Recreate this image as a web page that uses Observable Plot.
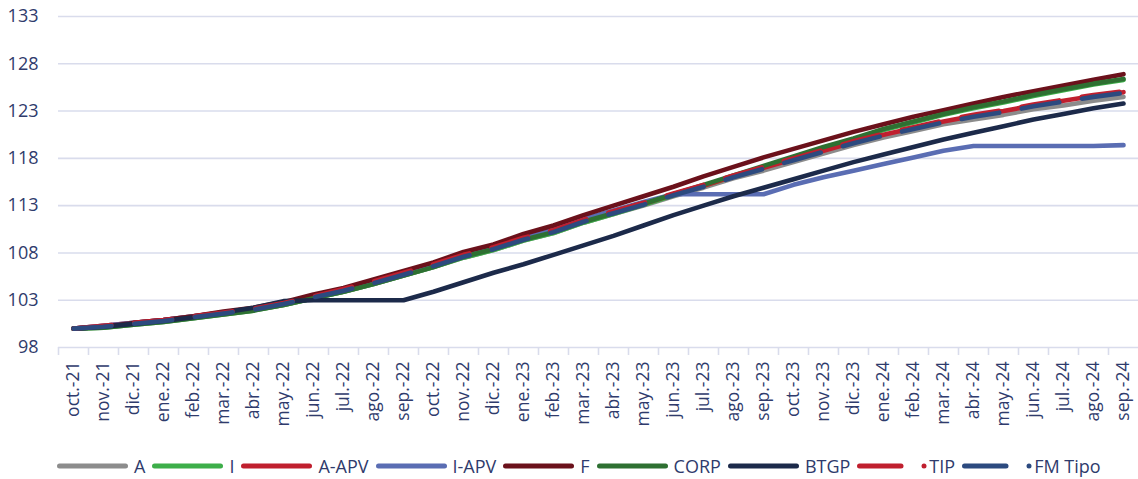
<!DOCTYPE html>
<html><head><meta charset="utf-8">
<script src="https://cdn.jsdelivr.net/npm/d3@7"></script>
<script src="https://cdn.jsdelivr.net/npm/@observablehq/plot@0.6"></script>
<style>
html,body{margin:0;padding:0;background:#fff;overflow:hidden}
body{font-family:"Open Sans",sans-serif;color:#2f3b6c;width:1138px;height:479px}
#legend{display:flex;align-items:center;height:20px;margin-top:24px;padding-left:57px;font-size:18px;color:#2f3b6c}
.item{display:flex;align-items:center;margin-right:7px}
.item svg{display:block;margin-right:6px}
</style></head><body>
<div id="chart"></div>
<div id="legend"></div>
<script>
const months = ["oct.-21","nov.-21","dic.-21","ene.-22","feb.-22","mar.-22","abr.-22","may.-22","jun.-22","jul.-22","ago.-22","sep.-22","oct.-22","nov.-22","dic.-22","ene.-23","feb.-23","mar.-23","abr.-23","may.-23","jun.-23","jul.-23","ago.-23","sep.-23","oct.-23","nov.-23","dic.-23","ene.-24","feb.-24","mar.-24","abr.-24","may.-24","jun.-24","jul.-24","ago.-24","sep.-24"];
const yTicks = [98,103,108,113,118,123,128,133];

const seriesA     = [100.0,100.2,100.5,100.8,101.2,101.6,102.0,102.5,103.2,103.9,104.7,105.6,106.5,107.5,108.3,109.3,110.1,111.2,112.1,113.0,114.0,114.9,115.9,116.7,117.6,118.5,119.4,120.2,120.9,121.6,122.1,122.6,123.2,123.6,124.1,124.5];
const seriesI     = [100.0,100.1,100.4,100.7,101.1,101.5,101.9,102.5,103.2,103.9,104.7,105.6,106.5,107.5,108.3,109.3,110.1,111.2,112.1,113.1,114.1,115.1,116.1,117.1,118.1,119.1,120.0,121.0,121.8,122.6,123.3,123.9,124.6,125.2,125.8,126.3];
const seriesAAPV  = [100.0,100.3,100.6,100.9,101.3,101.7,102.1,102.7,103.4,104.1,104.9,105.8,106.7,107.7,108.5,109.5,110.3,111.4,112.3,113.2,114.2,115.1,116.1,117.0,117.9,118.8,119.7,120.5,121.2,121.9,122.5,123.0,123.6,124.1,124.6,125.0];
const seriesIAPV  = [100.0,100.3,100.6,100.9,101.3,101.7,102.1,102.7,103.4,104.2,105.0,105.9,106.8,107.8,108.7,109.7,110.5,111.6,112.5,113.4,114.2,114.2,114.2,114.2,115.2,116.0,116.7,117.4,118.1,118.8,119.3,119.3,119.3,119.3,119.3,119.4];
const seriesF     = [100.0,100.2,100.6,100.9,101.3,101.8,102.2,102.8,103.6,104.3,105.2,106.1,107.0,108.1,108.9,110.0,110.9,112.0,113.0,114.0,115.0,116.1,117.1,118.1,119.0,119.9,120.8,121.6,122.4,123.1,123.8,124.5,125.1,125.7,126.3,126.9];
const seriesCORP  = [100.0,100.1,100.4,100.7,101.1,101.5,101.9,102.5,103.2,103.9,104.7,105.6,106.5,107.6,108.4,109.4,110.2,111.3,112.2,113.2,114.2,115.2,116.2,117.2,118.2,119.2,120.1,121.1,121.9,122.7,123.4,124.0,124.7,125.3,125.9,126.4];
const seriesBTGP  = [100.0,100.2,100.5,100.8,101.2,101.7,102.2,102.9,103.0,103.0,103.0,103.0,103.9,104.9,105.9,106.8,107.8,108.8,109.8,110.9,112.0,113.0,114.0,114.9,115.8,116.7,117.6,118.4,119.2,120.0,120.7,121.4,122.1,122.7,123.3,123.8];
const seriesTIP   = [100.0,100.3,100.6,100.9,101.3,101.7,102.1,102.7,103.4,104.2,105.0,105.9,106.8,107.8,108.6,109.6,110.4,111.5,112.4,113.3,114.3,115.2,116.2,117.1,118.0,118.9,119.8,120.6,121.3,122.0,122.6,123.1,123.7,124.2,124.7,125.1];
const seriesFM    = [100.0,100.2,100.5,100.8,101.2,101.6,102.0,102.6,103.3,104.0,104.8,105.7,106.6,107.6,108.4,109.4,110.2,111.3,112.2,113.1,114.1,115.0,116.0,116.9,117.8,118.7,119.6,120.4,121.1,121.8,122.4,122.9,123.5,124.0,124.5,124.9];

const seriesNames  = ["A","I","A-APV","I-APV","F","CORP","BTGP","TIP","FM Tipo"];
const seriesValues = [seriesA,seriesI,seriesAAPV,seriesIAPV,seriesF,seriesCORP,seriesBTGP,seriesTIP,seriesFM];
const seriesColors = ["#8c8c8c","#3dae49","#c01f2e","#5a6db3","#6b111b","#2e7032","#1c2a4a","#c01f2e","#2c4a7f"];
const seriesDashed = [false,false,false,false,false,false,false,true,true];

const gridColor = "#d9dcec";
const textColor = "#2f3b6c";

const lineMarks = seriesNames.map((name, s) => {
  const rows = months.map((m, i) => ({series: name, month: m, value: seriesValues[s][i]}));
  return Plot.line(rows, {
    x: "month", y: "value",
    stroke: seriesColors[s], strokeWidth: 4.6,
    strokeLinecap: "round", strokeLinejoin: "round",
    strokeDasharray: seriesDashed[s] ? "38,23" : null
  });
});

const chart = Plot.plot({
  width: 1138, height: 432,
  marginLeft: 58, marginRight: 0, marginTop: 16, marginBottom: 85,
  style: {fontFamily: "Open Sans", fontSize: "18px", color: textColor, background: "white", overflow: "visible"},
  x: {type: "band", domain: months, padding: 0, label: null},
  y: {domain: [98, 133], label: null},
  marks: [
    Plot.gridY({ticks: yTicks, stroke: gridColor, strokeOpacity: 1, strokeWidth: 1.6}),
    Plot.axisX({tickSize: 8, dx: -15, tickFormat: () => "", stroke: gridColor, strokeWidth: 1.6, strokeOpacity: 1}),
    Plot.axisX({tickSize: 0, tickRotate: -90, tickPadding: 14, fontSize: 17.5, fill: textColor, label: null}),
    Plot.axisY({ticks: yTicks, tickSize: 0, tickPadding: 20, fontSize: 18, fill: textColor, label: null}),
    ...lineMarks
  ]
});
document.getElementById("chart").appendChild(chart);

const legend = document.getElementById("legend");
seriesNames.forEach((name, s) => {
  const item = document.createElement("div");
  item.className = "item";
  const ns = "http://www.w3.org/2000/svg";
  const svg = document.createElementNS(ns, "svg");
  const w = 71;
  svg.setAttribute("width", w); svg.setAttribute("height", 10);
  const line = document.createElementNS(ns, "line");
  line.setAttribute("x1", 2.5); line.setAttribute("y1", 5);
  line.setAttribute("x2", seriesDashed[s] ? 44 : w - 2.5); line.setAttribute("y2", 5);
  line.setAttribute("stroke", seriesColors[s]); line.setAttribute("stroke-width", 5);
  line.setAttribute("stroke-linecap", "round");
  svg.appendChild(line);
  if (seriesDashed[s]) {
    const c = document.createElementNS(ns, "circle");
    c.setAttribute("cx", 67); c.setAttribute("cy", 5); c.setAttribute("r", 2.5);
    c.setAttribute("fill", seriesColors[s]);
    svg.appendChild(c);
    svg.style.marginRight = "1px";
  }
  item.appendChild(svg);
  const t = document.createElement("span");
  t.textContent = name;
  item.appendChild(t);
  legend.appendChild(item);
});
</script>
</body></html>
